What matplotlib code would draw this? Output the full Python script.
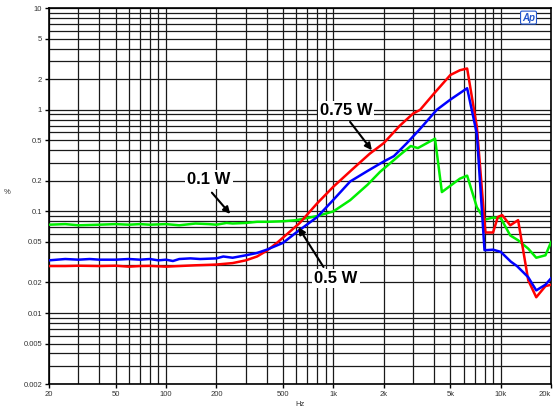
import matplotlib
matplotlib.use('Agg')
import matplotlib.pyplot as plt
from matplotlib.ticker import FixedLocator, NullFormatter, LogLocator

plt.rcParams['font.family'] = ['Liberation Sans', 'DejaVu Sans']

# 0.75 W (red)
f_red = [20, 25, 30, 40, 50, 60, 70, 80, 100, 120, 150, 180, 200, 250, 300, 350, 400,
         460, 530, 630, 800, 1000, 1300, 1650, 2000, 2500, 3000, 3300, 4000, 5000, 5700,
         6300, 7200, 8100, 9000, 9600, 10200, 11400, 12700, 14600, 16300, 18500, 20000]
thd_red = [0.029, 0.029, 0.0292, 0.029, 0.0292, 0.0286, 0.029, 0.0291, 0.0286, 0.029, 0.0295,
           0.0298, 0.030, 0.031, 0.033, 0.036, 0.041, 0.049, 0.060, 0.077, 0.12, 0.175, 0.26,
           0.37, 0.47, 0.70, 0.92, 1.0, 1.45, 2.2, 2.45, 2.55, 0.68, 0.062, 0.062, 0.088,
           0.092, 0.073, 0.082, 0.021, 0.0143, 0.0184, 0.019]

# 0.5 W (blue)
f_blue = [20, 25, 30, 35, 40, 50, 60, 70, 80, 90, 100, 110, 120, 140, 160, 200, 220, 250,
          300, 350, 400, 500, 600, 800, 1000, 1260, 1600, 2000, 2300, 2750, 3300, 4150,
          5000, 6300, 7200, 8000, 9000, 10000, 11500, 12500, 14600, 16300, 18500, 20000]
thd_blue = [0.033, 0.034, 0.0335, 0.034, 0.0335, 0.0335, 0.034, 0.0335, 0.034, 0.033,
            0.0335, 0.0325, 0.034, 0.0345, 0.034, 0.0345, 0.036, 0.035, 0.037, 0.039, 0.042,
            0.049, 0.062, 0.088, 0.13, 0.197, 0.25, 0.31, 0.35, 0.47, 0.65, 1.0, 1.26, 1.63,
            0.58, 0.0415, 0.042, 0.040, 0.032, 0.029, 0.0225, 0.0167, 0.019, 0.022]

# 0.1 W (green)
f_green = [20, 25, 30, 40, 50, 60, 70, 80, 100, 120, 150, 180, 200, 230, 250, 300, 350,
           400, 500, 600, 800, 1000, 1260, 1600, 1900, 2500, 2900, 3200, 4050, 4450, 5700,
           6300, 7200, 8000, 9000, 10000, 11400, 12700, 14600, 16300, 18500, 20000]
thd_green = [0.074, 0.075, 0.073, 0.074, 0.075, 0.074, 0.075, 0.074, 0.075, 0.073, 0.076,
             0.075, 0.074, 0.077, 0.076, 0.077, 0.079, 0.079, 0.080, 0.082, 0.090, 0.100,
             0.129, 0.183, 0.245, 0.36, 0.44, 0.42, 0.52, 0.155, 0.21, 0.225, 0.11, 0.083,
             0.087, 0.086, 0.058, 0.052, 0.043, 0.035, 0.037, 0.050]

x_ticks = [20, 50, 100, 200, 500, 1000, 2000, 5000, 10000, 20000]
x_labels = ['20', '50', '100', '200', '500', '1k', '2k', '5k', '10k', '20k']
y_ticks = [0.002, 0.005, 0.01, 0.02, 0.05, 0.1, 0.2, 0.5, 1, 2, 5, 10]
y_labels = ['0.002', '0.005', '0.01', '0.02', '0.05', '0.1', '0.2', '0.5', '1', '2', '5', '10']

fig = plt.figure(figsize=(5.55, 4.09), dpi=100)
ax = fig.add_axes([0.0883, 0.061, 0.9047, 0.919])

ax.set_xscale('log')
ax.set_yscale('log')
ax.set_xlim(20, 20000)
ax.set_ylim(0.002, 10)

ax.plot(f_green, thd_green, color='#00ee00', lw=1.8, zorder=3)
ax.plot(f_red, thd_red, color='#ff0000', lw=1.8, zorder=4)
ax.plot(f_blue, thd_blue, color='#0000ff', lw=1.8, zorder=5)

ax.xaxis.set_major_locator(FixedLocator(x_ticks))
ax.set_xticklabels(x_labels)
ax.get_xticklabels()[-1].set_horizontalalignment('right')
ax.xaxis.set_minor_locator(LogLocator(base=10, subs=range(1, 10)))
ax.xaxis.set_minor_formatter(NullFormatter())
ax.yaxis.set_major_locator(FixedLocator(y_ticks))
ax.set_yticklabels(y_labels)
ax.yaxis.set_minor_locator(LogLocator(base=10, subs=range(1, 10)))
ax.yaxis.set_minor_formatter(NullFormatter())

ax.grid(True, which='both', color='#1a1a1a', lw=0.9)
ax.set_axisbelow(True)
ax.tick_params(which='major', length=3, width=1, labelsize=5.5, labelcolor='#333333', pad=2)
ax.tick_params(which='minor', length=0)
for s in ax.spines.values():
    s.set_linewidth(1.2)

ax.set_xlabel('Hz', fontsize=5.5, color='#333333', labelpad=2)
ax.set_ylabel('%', fontsize=5.5, color='#333333', rotation=0, labelpad=12)

box = dict(facecolor='white', edgecolor='none', pad=1.5)
arrow = dict(arrowstyle='-|>', color='black', lw=1.5, mutation_scale=10, shrinkA=0, shrinkB=0)

ax.text(1191, 0.99, '0.75 W', fontsize=12, fontweight='bold', ha='center', va='center', bbox=box, zorder=6)
ax.annotate('', xy=(1698, 0.40), xytext=(1259, 0.76), arrowprops=arrow, zorder=6)

ax.text(181, 0.205, '0.1 W', fontsize=12, fontweight='bold', ha='center', va='center', bbox=box, zorder=6)
ax.annotate('', xy=(242, 0.0944), xytext=(188, 0.153), arrowprops=arrow, zorder=6)

ax.text(1038, 0.022, '0.5 W', fontsize=12, fontweight='bold', ha='center', va='center', bbox=box, zorder=6)
ax.annotate('', xy=(618, 0.0698), xytext=(873, 0.0284), arrowprops=arrow, zorder=6)

ax.text(0.955, 0.975, 'Ap', transform=ax.transAxes, fontsize=7, fontweight='bold', style='italic',
        color='#2255cc', ha='center', va='center', zorder=6,
        bbox=dict(boxstyle='round,pad=0.15', facecolor='white', edgecolor='#2255cc', lw=0.8))

fig.savefig('out.png', dpi=100)
